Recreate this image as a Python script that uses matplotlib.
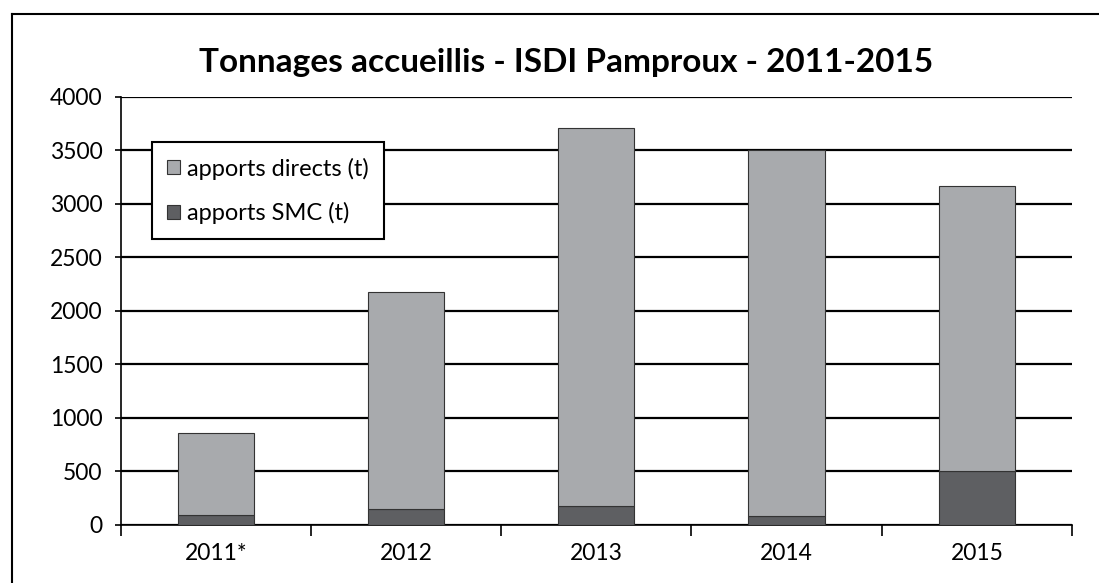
import matplotlib
matplotlib.use("Agg")
import matplotlib.pyplot as plt
import numpy as np

plt.rcParams['font.family'] = ['Lato', 'DejaVu Sans']

years = ['2011*', '2012', '2013', '2014', '2015']
smc = [90, 150, 180, 85, 500]
directs = [770, 2025, 3530, 3415, 2670]

fig = plt.figure(figsize=(10.99, 5.83), dpi=100)
ax = fig.add_axes([0.1097, 0.0995, 0.8657, 0.7346])

x = np.arange(len(years))
ax.bar(x, smc, width=0.4, color='#5e5f62', edgecolor='#333333', linewidth=0.8,
       label='apports SMC (t)', zorder=3)
ax.bar(x, directs, width=0.4, bottom=smc, color='#a8aaad', edgecolor='#333333',
       linewidth=0.8, label='apports directs (t)', zorder=3)

ax.set_xlim(-0.5, 4.5)
ax.set_ylim(0, 4000)
ax.set_yticks(np.arange(0, 4001, 500))
ax.yaxis.grid(True, color='black', linewidth=1.6)
ax.set_axisbelow(True)

ax.set_xticks(np.arange(-0.5, 4.6, 1))
ax.set_xticklabels([])
ax.set_xticks(x, minor=True)
ax.set_xticklabels(years, minor=True)
ax.tick_params(axis='x', which='major', length=8, width=1.2, direction='out')
ax.tick_params(axis='x', which='minor', length=0, pad=13, labelsize=16.5)
ax.tick_params(axis='y', length=4, width=1.2, labelsize=16.5, pad=9)

for s in ['top', 'right']:
    ax.spines[s].set_visible(False)
ax.spines['left'].set_linewidth(1.2)
ax.spines['bottom'].set_linewidth(1.2)

handles, labels = ax.get_legend_handles_labels()
leg = ax.legend(handles[::-1], labels[::-1], loc='upper left',
                bbox_to_anchor=(0.033, 0.894), borderaxespad=0,
                fontsize=17, frameon=True, fancybox=False, framealpha=1,
                edgecolor='black', handlelength=0.55, handleheight=0.55,
                handletextpad=0.3, labelspacing=0.95, borderpad=0.65)
leg.get_frame().set_linewidth(1.5)

fig.suptitle('Tonnages accueillis - ISDI Pamproux - 2011-2015', x=0.515, y=0.917,
             fontsize=24, fontweight='bold')

# outer chart frame (scan shows only top and left edges)
fig.add_artist(plt.Line2D([0.011, 1.0], [0.976, 0.976], color='black', linewidth=1.5,
                          transform=fig.transFigure))
fig.add_artist(plt.Line2D([0.011, 0.011], [0.0, 0.976], color='black', linewidth=1.5,
                          transform=fig.transFigure))

fig.savefig('out.png', dpi=100)
